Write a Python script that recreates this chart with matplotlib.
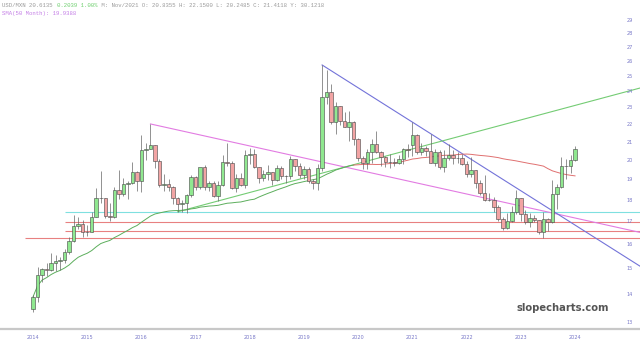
import matplotlib.pyplot as plt
import numpy as np
import pandas as pd

# USD/MXN monthly candles, Nov 2014 .. Nov 2024 (index 0 .. 120)
opens = [13.47, 13.92, 14.75, 14.99, 14.94, 15.25, 15.33, 15.36, 15.70, 16.13, 16.82, 16.91,
         16.54, 16.56, 17.21, 18.12, 18.09, 17.25, 17.20, 18.50, 18.28, 18.77, 18.82, 19.38,
         18.96, 20.56, 20.62, 20.85, 19.99, 18.73, 18.80, 18.64, 18.10, 17.80, 17.84, 18.23,
         19.15, 18.62, 19.66, 18.62, 18.82, 18.20, 18.72, 19.91, 19.89, 18.60, 19.07, 18.72,
         20.32, 20.36, 19.65, 19.07, 19.30, 19.40, 18.98, 19.63, 19.20, 19.17, 20.09, 19.73,
         19.24, 19.56, 18.93, 18.86, 19.61, 23.66, 24.00, 22.18, 23.09, 22.24, 21.89, 22.13,
         21.20, 20.14, 19.88, 20.46, 20.89, 20.44, 20.19, 19.92, 19.94, 19.87, 20.10, 20.64,
         20.84, 21.41, 20.47, 20.67, 20.49, 19.87, 20.45, 19.64, 20.12, 20.30, 20.11, 20.15,
         19.80, 19.27, 19.48, 18.82, 18.33, 18.03, 18.02, 17.67, 17.12, 16.73, 17.04, 17.44,
         18.09, 17.35, 16.97, 17.17, 17.06, 16.54, 17.14, 16.99, 18.29, 18.65, 19.71, 19.69,
         20.03]
highs = [14.00, 15.06, 15.04, 15.22, 15.62, 15.54, 15.48, 15.82, 16.30, 17.32, 17.22, 17.06,
         16.86, 17.46, 18.58, 19.45, 18.09, 17.88, 18.63, 19.52, 19.07, 18.95, 19.93, 19.43,
         21.39, 20.96, 22.04, 20.86, 20.07, 19.29, 19.06, 18.67, 18.16, 18.03, 18.29, 19.26,
         19.20, 19.55, 19.74, 18.92, 18.94, 18.94, 20.28, 20.96, 19.97, 19.32, 19.36, 20.57,
         20.68, 20.63, 19.68, 19.52, 19.75, 19.41, 19.74, 19.71, 19.26, 20.26, 20.10, 19.86,
         19.70, 19.64, 19.02, 19.83, 25.78, 25.45, 24.54, 23.35, 23.13, 22.77, 22.80, 22.21,
         21.25, 20.25, 20.60, 21.20, 21.63, 20.50, 20.24, 20.37, 20.15, 20.31, 20.67, 20.90,
         22.15, 21.47, 20.95, 20.77, 21.47, 20.62, 20.55, 20.55, 20.89, 20.55, 20.45, 20.33,
         19.96, 20.17, 19.49, 19.00, 19.23, 18.35, 18.14, 17.76, 17.19, 17.41, 17.71, 18.49,
         18.11, 17.54, 17.38, 17.28, 17.09, 17.44, 17.18, 18.99, 18.78, 20.20, 20.06, 20.27,
         20.80]
lows = [13.38, 13.72, 14.48, 14.71, 14.91, 14.92, 14.93, 15.24, 15.59, 16.10, 16.65, 16.32,
        16.35, 16.53, 17.21, 17.86, 17.18, 17.05, 17.18, 18.06, 18.18, 18.06, 18.79, 18.46,
        18.41, 20.03, 20.60, 19.62, 18.63, 18.43, 18.44, 17.82, 17.45, 17.44, 17.38, 18.15,
        18.50, 18.56, 18.50, 18.42, 18.16, 17.94, 18.67, 19.72, 18.52, 18.41, 18.69, 18.58,
        19.83, 19.62, 18.84, 18.94, 18.98, 18.74, 18.92, 19.02, 18.86, 19.04, 19.43, 19.08,
        19.06, 18.85, 18.53, 18.51, 19.47, 23.26, 22.03, 21.46, 21.98, 21.84, 21.08, 20.83,
        19.98, 19.54, 19.55, 19.85, 20.39, 19.69, 19.64, 19.60, 19.70, 19.83, 19.81, 20.18,
        20.25, 20.34, 20.32, 20.25, 19.85, 19.73, 19.54, 19.42, 20.05, 19.84, 19.88, 19.76,
        19.13, 19.12, 18.57, 18.26, 17.94, 17.94, 17.42, 17.03, 16.63, 16.69, 16.99, 17.37,
        17.05, 16.89, 16.78, 16.99, 16.47, 16.26, 16.59, 16.93, 17.60, 18.61, 19.05, 19.37,
        19.98]
closes = [13.92, 14.75, 14.99, 14.94, 15.25, 15.33, 15.36, 15.70, 16.13, 16.82, 16.91, 16.54,
          16.56, 17.21, 18.12, 18.09, 17.25, 17.20, 18.50, 18.28, 18.77, 18.82, 19.38, 18.96,
          20.56, 20.62, 20.85, 19.99, 18.73, 18.80, 18.64, 18.10, 17.80, 17.84, 18.23, 19.15,
          18.62, 19.66, 18.62, 18.82, 18.20, 18.72, 19.91, 19.89, 18.60, 19.07, 18.72, 20.32,
          20.36, 19.65, 19.07, 19.30, 19.40, 18.98, 19.63, 19.20, 19.17, 20.09, 19.73, 19.24,
          19.56, 18.93, 18.86, 19.61, 23.66, 24.00, 22.18, 23.09, 22.24, 21.89, 22.13, 21.20,
          20.14, 19.88, 20.46, 20.89, 20.44, 20.19, 19.92, 19.94, 19.87, 20.10, 20.64, 20.57,
          21.41, 20.47, 20.67, 20.49, 19.87, 20.45, 19.64, 20.12, 20.30, 20.11, 20.15, 19.80,
          19.27, 19.48, 18.82, 18.33, 18.03, 18.02, 17.67, 17.12, 16.73, 17.04, 17.44, 18.09,
          17.35, 16.97, 17.17, 17.06, 16.54, 17.14, 16.99, 18.29, 18.65, 19.71, 19.69, 20.03,
          20.61]

year_labels = ['2014', '2015', '2016', '2017', '2018', '2019', '2020', '2021', '2022', '2023', '2024']
price_ticks = [13, 14, 15, 16, 17, 18, 19, 20, 21, 22, 23, 24, 25, 26, 27, 28, 29]

# trendlines as (month index, price) pairs, drawn to the right edge
pink_trend = [(26, 22.04), (134.4, 16.52)]
blue_trend = [(64, 25.78), (134.4, 15.1)]
green_trend = [(32, 17.45), (134.4, 24.25)]
# horizontal levels: (price, start index, colour)
levels = [(17.44, 7, '#7fe0e0'), (16.97, 7, '#e88080'), (16.58, 7, '#e88080'), (16.29, -1.8, '#e88080')]
sma_split = 71   # sma drawn green up to here, red after

o = np.array(opens)
h = np.array(highs)
l = np.array(lows)
c = np.array(closes)
idx = np.arange(len(c))
sma = pd.Series(c).rolling(50, min_periods=1).mean().values

fig = plt.figure(figsize=(6.4, 3.46), dpi=100)
ax = fig.add_axes([0, 17 / 346, 1, 329 / 346])
ax.set_yscale('log')
ax.set_xlim(-7.31, 134.38)
ax.set_ylim(12.78, 30.64)

# levels and trendlines
for price, start, col in levels:
    ax.hlines(price, start, 134.38, color=col, linewidth=0.8, zorder=1)
for pts, col in [(pink_trend, '#e27be2'), (blue_trend, '#7373d9'), (green_trend, '#74cc74')]:
    ax.plot([pts[0][0], pts[1][0]], [pts[0][1], pts[1][1]], color=col, linewidth=0.8, zorder=1)

# moving average
ax.plot(idx[:sma_split + 1], sma[:sma_split + 1], color='#5cae5c', linewidth=0.7, zorder=2)
ax.plot(idx[sma_split:], sma[sma_split:], color='#e07070', linewidth=0.7, zorder=2)

# candles
up = c >= o
ax.vlines(idx, l, h, color='#666666', linewidth=0.5, zorder=3)
ax.bar(idx[up], c[up] - o[up], bottom=o[up], width=0.78, color='#90e890',
       edgecolor='#444444', linewidth=0.4, zorder=4)
ax.bar(idx[~up], o[~up] - c[~up], bottom=c[~up], width=0.78, color='#f2a4a4',
       edgecolor='#444444', linewidth=0.4, zorder=4)

# axes styling
for side in ['top', 'left', 'right']:
    ax.spines[side].set_visible(False)
ax.spines['bottom'].set_color('#c8c8c8')
ax.spines['bottom'].set_linewidth(1.6)
ax.yaxis.set_major_locator(plt.NullLocator())
ax.yaxis.set_minor_locator(plt.NullLocator())
ax.set_xticks(np.arange(0, 121, 12), labels=year_labels)
ax.tick_params(axis='x', length=0, pad=4.5, labelsize=3.6, labelcolor='#7878c8')

for p in price_ticks:
    ax.text(630 / 640, p, str(p), transform=ax.get_yaxis_transform(), ha='center', va='center',
            fontsize=3.6, color='#7878c8')

# header
mono = 'Liberation Mono'
cw = 0.6 * 4.1 * 100 / 72 / 640
parts = [('USD/MXN 20.6135 ', '#9a9a9a'), ('0.2039 1.00%', '#6fcf6f'),
         (' M: Nov/2021 O: 20.8355 H: 22.1500 L: 20.2485 C: 21.4118 Y: 30.1218', '#9a9a9a')]
x0 = 2 / 640
for txt, col in parts:
    fig.text(x0, 1 - 5.5 / 346, txt, fontsize=4.1, family=mono, color=col, va='center', ha='left')
    x0 += len(txt) * cw
fig.text(2 / 640, 1 - 14 / 346, 'SMA(50 Month): 19.9388', fontsize=4.1, family=mono,
         color='#c47fe6', va='center', ha='left')

fig.text(563 / 640, 1 - 308 / 346, 'slopecharts.com', fontsize=7.2, fontweight='bold',
         color='#555555', ha='center', va='center')

plt.savefig('out.png', dpi=100)
